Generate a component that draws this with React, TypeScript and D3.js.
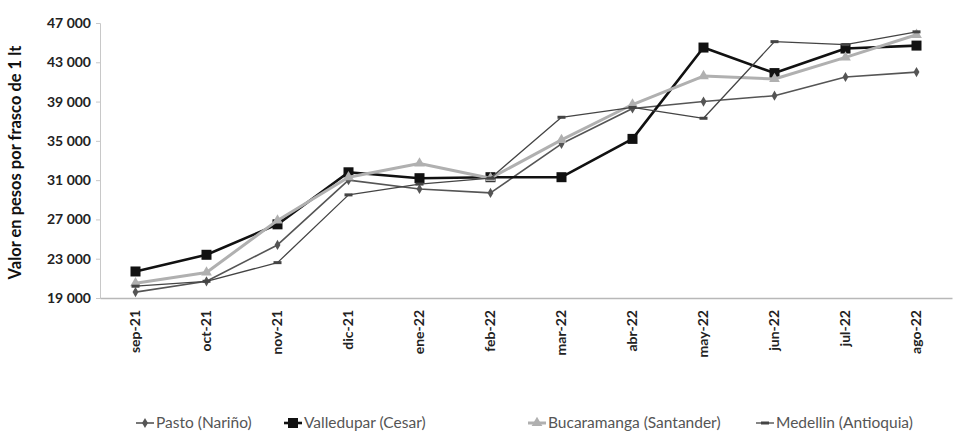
import { useEffect, useRef } from "react";
import * as d3 from "d3";

const WIDTH = 954;
const HEIGHT = 437;
const MARGIN = { top: 23, right: 2, bottom: 139, left: 100 };

const months = ["sep-21", "oct-21", "nov-21", "dic-21", "ene-22", "feb-22", "mar-22", "abr-22", "may-22", "jun-22", "jul-22", "ago-22"];
const yTicks = [19000, 23000, 27000, 31000, 35000, 39000, 43000, 47000];

const pasto = [19600, 20700, 24400, 31000, 30100, 29700, 34700, 38300, 39000, 39600, 41500, 42000];
const valledupar = [21700, 23400, 26500, 31800, 31200, 31300, 31300, 35200, 44500, 41900, 44400, 44700];
const bucaramanga = [20500, 21600, 26900, 31300, 32700, 31200, 35100, 38700, 41600, 41300, 43500, 45800];
const medellin = [20200, 20700, 22600, 29500, 30600, 31200, 37400, 38400, 37300, 45100, 44800, 46100];

const series = [
  { name: "Pasto (Nariño)", values: pasto, color: "#555", width: 1.6, marker: "diamond" },
  { name: "Valledupar (Cesar)", values: valledupar, color: "#111", width: 2.6, marker: "square" },
  { name: "Bucaramanga (Santander)", values: bucaramanga, color: "#b0b0b0", width: 3, marker: "triangle" },
  { name: "Medellin (Antioquia)", values: medellin, color: "#444", width: 1.3, marker: "dash" },
];
const legendX = [136, 284, 528, 756];

const FONT = "Lato, 'Open Sans', sans-serif";

function drawMarker(g: any, kind: string, x: number, y: number, color: string) {
  if (kind === "square") {
    g.append("rect").attr("x", x - 5).attr("y", y - 5).attr("width", 10).attr("height", 10).attr("fill", color);
  } else if (kind === "diamond") {
    g.append("path").attr("d", d3.symbol(d3.symbolDiamond, 30)()).attr("transform", `translate(${x},${y})`).attr("fill", color);
  } else if (kind === "triangle") {
    g.append("path").attr("d", d3.symbol(d3.symbolTriangle, 50)()).attr("transform", `translate(${x},${y})`).attr("fill", color);
  } else {
    g.append("rect").attr("x", x - 4).attr("y", y - 1.5).attr("width", 8).attr("height", 3).attr("fill", color);
  }
}

const App = () => {
  const ref = useRef<SVGSVGElement>(null);
  const boundsWidth = WIDTH - MARGIN.left - MARGIN.right;
  const boundsHeight = HEIGHT - MARGIN.top - MARGIN.bottom;

  useEffect(() => {
    const svg = d3.select(ref.current);
    svg.selectAll("*").remove();

    const xScale = d3.scaleBand().domain(months).range([0, boundsWidth]);
    const yScale = d3.scaleLinear().domain([19000, 47000]).range([boundsHeight, 0]);
    const cx = (m: string) => (xScale(m) || 0) + xScale.bandwidth() / 2;

    const g = svg.append("g").attr("transform", `translate(${MARGIN.left},${MARGIN.top})`);

    // y axis
    const yAxis = g.append("g").call(
      d3.axisLeft(yScale).tickValues(yTicks).tickSize(4).tickFormat((d: any) => d3.format(",")(d).replace(",", " "))
    );
    yAxis.select(".domain").attr("stroke", "#c8c8c8");
    yAxis.selectAll(".tick line").attr("stroke", "#c8c8c8");
    yAxis.selectAll("text").attr("font-family", FONT).attr("font-size", 14).attr("font-weight", 700).attr("fill", "#222").attr("x", -9);

    // x axis
    const xAxis = g.append("g").attr("transform", `translate(0,${boundsHeight})`).call(d3.axisBottom(xScale).tickSize(0));
    xAxis.select(".domain").attr("stroke", "#b8b8b8").attr("stroke-width", 1.5);
    xAxis.selectAll("text")
      .attr("font-family", FONT).attr("font-size", 14).attr("font-weight", 700).attr("fill", "#222")
      .attr("transform", "rotate(-90)").attr("text-anchor", "end").attr("x", -12).attr("y", 0).attr("dy", "0.35em");

    // y title
    svg.append("text")
      .attr("transform", `translate(21,${MARGIN.top + boundsHeight / 2 + 2}) rotate(-90)`)
      .attr("text-anchor", "middle").attr("font-family", FONT).attr("font-size", 16.5).attr("font-weight", 700).attr("fill", "#111")
      .text("Valor en pesos por frasco de 1 lt");

    const line = d3.line<number>().x((_, i) => cx(months[i])).y((d) => yScale(d));

    series.forEach((s) => {
      g.append("path").attr("d", line(s.values)).attr("fill", "none").attr("stroke", s.color).attr("stroke-width", s.width).attr("stroke-linejoin", "round");
      s.values.forEach((v, i) => drawMarker(g, s.marker, cx(months[i]), yScale(v), s.color));
    });

    // legend
    const lg = svg.append("g").attr("transform", `translate(0,423)`);
    series.forEach((s, i) => {
      const x = legendX[i];
      lg.append("line").attr("x1", x).attr("x2", x + 18).attr("y1", 0).attr("y2", 0).attr("stroke", s.color).attr("stroke-width", s.width);
      drawMarker(lg, s.marker, x + 9, 0, s.color);
      lg.append("text").attr("x", x + 20).attr("y", 0).attr("dy", "0.35em")
        .attr("font-family", FONT).attr("font-size", 15.5).attr("fill", "#555").text(s.name);
    });
  }, []);

  return (
    <svg ref={ref} width={WIDTH} height={HEIGHT} style={{ position: "absolute", left: 0, top: 0, background: "#fff" }} />
  );
};

export default App;
